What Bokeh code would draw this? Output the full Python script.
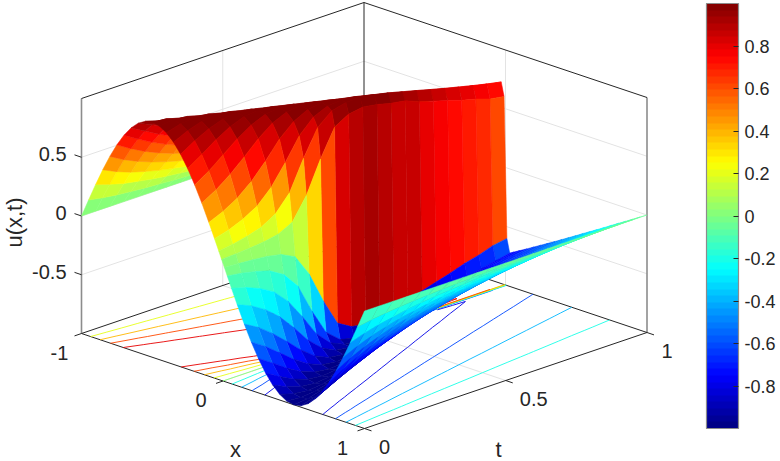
from bokeh.plotting import figure
from bokeh.embed import file_html
from bokeh.resources import INLINE
from bokeh.models import Range1d, ColorBar, LinearColorMapper, FixedTicker
from bokeh.core.properties import value

# Surface heights are hand estimates, read off the picture and guided by the
# shape of a steepening wave with a shock at x = 0; no formula fills them.
T_VALUES = [0.0, 0.05, 0.1, 0.15, 0.2, 0.25, 0.3, 0.35, 0.4, 0.45, 0.5,
            0.55, 0.6, 0.65, 0.7, 0.75, 0.8, 0.85, 0.9, 0.95, 1.0]
X_LEFT = [-1.0, -0.95, -0.9, -0.85, -0.8, -0.75, -0.7, -0.65, -0.6, -0.55, -0.5,
          -0.45, -0.4, -0.35, -0.3, -0.25, -0.2, -0.15, -0.1, -0.06, -0.03, -0.01]
X_RIGHT = [0.01, 0.03, 0.06, 0.1, 0.15, 0.2, 0.25, 0.3, 0.35, 0.4, 0.45,
           0.5, 0.55, 0.6, 0.65, 0.7, 0.75, 0.8, 0.85, 0.9, 0.95, 1.0]

U_T000 = [0, .156, .309, .454, .588, .707, .809, .891, .951, .988, 1, .988, .951, .891, .809, .707, .588, .454, .309, .187, .094, .031]
U_T005 = [0, .134, .269, .397, .519, .633, .735, .824, .897, .952, .988, 1, .987, .948, .882, .786, .666, .524, .361, .220, .111, .037]
U_T010 = [0, .118, .236, .352, .464, .569, .667, .756, .836, .903, .954, .988, 1, .988, .944, .870, .761, .616, .434, .270, .138, .046]
U_T015 = [0, .107, .213, .317, .418, .515, .609, .697, .776, .847, .907, .956, .988, 1, .986, .941, .856, .724, .534, .340, .173, .058]
U_T020 = [0, .096, .192, .286, .379, .470, .557, .640, .720, .792, .856, .912, .957, .988, 1, .986, .935, .838, .667, .460, .245, .082]
U_T025 = [0, .088, .175, .262, .347, .431, .512, .592, .667, .738, .806, .864, .916, .959, .988, 1, .985, .930, .815, .630, .384, .142]
U_T030 = [0, .080, .161, .240, .320, .398, .475, .549, .621, .690, .755, .817, .872, .920, .960, .989, 1, .984, .923, .818, .639, .33]
U_T035 = [0, .074, .149, .223, .297, .369, .441, .511, .580, .646, .711, .770, .827, .879, .923, .961, .989, 1, .984, .937, .86, .60]
U_T040 = [0, .070, .139, .208, .276, .344, .411, .477, .542, .606, .667, .726, .782, .835, .885, .927, .962, .989, 1, .989, .962, .83]
U_T045 = [0, .065, .130, .195, .259, .323, .386, .449, .510, .570, .628, .686, .741, .794, .843, .891, .929, .963, .989, .999, .99, .90]
U_T050 = [0, .061, .122, .183, .243, .304, .363, .422, .480, .538, .594, .649, .703, .754, .805, .850, .895, .932, .964, .988, .994, .92]
U_T055 = [0, .057, .115, .172, .229, .286, .342, .398, .454, .508, .563, .616, .667, .718, .766, .813, .856, .898, .934, .960, .976, .90]
U_T060 = [0, .054, .108, .162, .217, .271, .325, .378, .431, .483, .534, .585, .634, .683, .731, .777, .821, .862, .901, .929, .95, .87]
U_T065 = [0, .052, .103, .155, .206, .257, .308, .358, .409, .459, .508, .557, .605, .651, .698, .742, .786, .828, .868, .898, .919, .85]
U_T070 = [0, .049, .098, .147, .196, .245, .293, .341, .389, .437, .484, .530, .577, .622, .667, .711, .753, .796, .835, .865, .888, .80]
U_T075 = [0, .047, .093, .140, .187, .233, .279, .326, .371, .417, .463, .507, .552, .596, .639, .681, .723, .763, .803, .833, .856, .765]
U_T080 = [0, .045, .089, .134, .178, .223, .267, .312, .355, .399, .443, .486, .528, .571, .612, .653, .694, .733, .772, .804, .825, .73]
U_T085 = [0, .043, .085, .128, .170, .213, .255, .298, .340, .382, .424, .465, .506, .547, .588, .627, .667, .707, .743, .773, .796, .69]
U_T090 = [0, .041, .082, .123, .164, .205, .246, .286, .327, .367, .407, .447, .486, .526, .565, .604, .642, .680, .717, .746, .767, .66]
U_T095 = [0, .039, .079, .118, .158, .197, .236, .275, .314, .352, .391, .430, .468, .506, .544, .581, .618, .654, .691, .720, .740, .62]
U_T100 = [0, .038, .076, .114, .151, .189, .227, .265, .302, .339, .377, .414, .451, .488, .524, .560, .596, .632, .667, .695, .716, .60]

U_ROWS = [U_T000, U_T005, U_T010, U_T015, U_T020, U_T025, U_T030, U_T035, U_T040, U_T045, U_T050,
          U_T055, U_T060, U_T065, U_T070, U_T075, U_T080, U_T085, U_T090, U_T095, U_T100]

LEVELS = [-0.8, -0.6, -0.4, -0.2, 0.0, 0.2, 0.4, 0.6, 0.8]
X_TICKS = [-1, 0, 1]
T_TICKS = [0, 0.5, 1]
Z_TICKS = [-0.5, 0, 0.5]
CB_TICKS = [-0.8, -0.6, -0.4, -0.2, 0, 0.2, 0.4, 0.6, 0.8]

# the far half of the wave is the near half upside down
xs_all = X_LEFT + X_RIGHT
U = [row + [-v for v in reversed(row)] for row in U_ROWS]


def proj(x, t, z):
    return (81 + (x + 1) * 141.5 + t * 282.5, 333 + (x + 1) * 47.5 - t * 96 - (z + 1) * 117.5)


def jet_rgb(v):
    c = lambda a: max(0.0, min(1.0, a))
    return (c(min(4 * v - 1.5, -4 * v + 4.5)), c(min(4 * v - 0.5, -4 * v + 3.5)), c(min(4 * v + 0.5, -4 * v + 2.5)))


def hex_of(rgb):
    return "#%02x%02x%02x" % tuple(int(round(255 * a)) for a in rgb)


JET = [hex_of(jet_rgb((i + 0.5) / 64)) for i in range(64)]


def color(u):
    return JET[max(0, min(63, int((u + 1) / 2 * 64)))]


p = figure(width=780, height=461, x_range=Range1d(0, 780), y_range=Range1d(461, 0),
           x_axis_type=None, y_axis_type=None, toolbar_location=None, output_backend="svg",
           min_border=0, outline_line_color=None)
p.grid.visible = False

DARK = "#262626"
GRID = "#e3e3e3"
AXG = "#8c8c8c"


def seg(a, b, col, w=1.0):
    p.line([a[0], b[0]], [a[1], b[1]], line_color=col, line_width=w)


# grid lines on back walls and floor
for z in Z_TICKS:
    seg(proj(-1, 0, z), proj(-1, 1, z), GRID)
    seg(proj(-1, 1, z), proj(1, 1, z), GRID)
for t in T_TICKS[1:-1]:
    seg(proj(-1, t, -1), proj(-1, t, 1), GRID)
    seg(proj(-1, t, -1), proj(1, t, -1), GRID)
for x in X_TICKS[1:-1]:
    seg(proj(x, 1, -1), proj(x, 1, 1), GRID)
    seg(proj(x, 0, -1), proj(x, 1, -1), GRID)

# box
seg(proj(-1, 0, -1), proj(-1, 0, 1), AXG, 1.6)
seg(proj(1, 1, -1), proj(1, 1, 1), AXG, 1.6)
seg(proj(-1, 1, -1), proj(-1, 1, 1), DARK)
seg(proj(-1, 0, 1), proj(-1, 1, 1), DARK)
seg(proj(-1, 1, 1), proj(1, 1, 1), DARK)
seg(proj(-1, 0, -1), proj(-1, 1, -1), DARK)
seg(proj(-1, 1, -1), proj(1, 1, -1), DARK)
seg(proj(-1, 0, -1), proj(1, 0, -1), DARK)
seg(proj(1, 0, -1), proj(1, 1, -1), DARK)

# ticks
for x in X_TICKS:
    a = proj(x, 0, -1)
    seg(a, (a[0] - 7, a[1] + 2.4), DARK)
for t in T_TICKS:
    a = proj(1, t, -1)
    seg(a, (a[0] + 7, a[1] + 2.4), DARK)
for z in Z_TICKS:
    a = proj(-1, 0, z)
    seg(a, (a[0] - 7, a[1] - 2.4), DARK)

cx0, cy0, cx1, cy1, ccol = [], [], [], [], []
for j in range(len(T_VALUES) - 1):
    for i in range(len(xs_all) - 1):
        corners = [(xs_all[i], T_VALUES[j], U[j][i]), (xs_all[i + 1], T_VALUES[j], U[j][i + 1]),
                   (xs_all[i + 1], T_VALUES[j + 1], U[j + 1][i + 1]), (xs_all[i], T_VALUES[j + 1], U[j + 1][i])]
        for lev in LEVELS:
            pts = []
            for k in range(4):
                a, b = corners[k], corners[(k + 1) % 4]
                if (a[2] - lev) * (b[2] - lev) < 0:
                    f = (lev - a[2]) / (b[2] - a[2])
                    pts.append(proj(a[0] + f * (b[0] - a[0]), a[1] + f * (b[1] - a[1]), -1))
            for m in range(0, len(pts) - 1, 2):
                cx0.append(pts[m][0]); cy0.append(pts[m][1])
                cx1.append(pts[m + 1][0]); cy1.append(pts[m + 1][1])
                ccol.append(color(lev))
p.segment(cx0, cy0, cx1, cy1, line_color=ccol, line_width=0.9)

# surface, far cells first
qx, qy, qc = [], [], []
for i in range(len(xs_all) - 1):
    for j in range(len(T_VALUES) - 2, -1, -1):
        pts = [proj(xs_all[i], T_VALUES[j], U[j][i]), proj(xs_all[i + 1], T_VALUES[j], U[j][i + 1]),
               proj(xs_all[i + 1], T_VALUES[j + 1], U[j + 1][i + 1]), proj(xs_all[i], T_VALUES[j + 1], U[j + 1][i])]
        qx.append([a[0] for a in pts])
        qy.append([a[1] for a in pts])
        qc.append(color(U[j][i]))
p.patches(qx, qy, fill_color=qc, line_color=qc, line_width=0.5)

FONT = "Liberation Sans"


def label(x, y, s, size=20, align="center", angle=0):
    p.text([x], [y], text=[s], text_font=value(FONT), text_font_size=f"{size}px", text_color=DARK,
           text_align=align, text_baseline="middle", angle=angle)


def fmt(v):
    return ("%g" % v)


for z in Z_TICKS:
    a = proj(-1, 0, z)
    label(66, a[1] - 3, fmt(z), align="right")
for x in X_TICKS:
    a = proj(x, 0, -1)
    label(a[0] - 22, a[1] + 19, fmt(x))
for t in T_TICKS:
    a = proj(1, t, -1)
    label(a[0] + (28 if t == 0.5 else 20), a[1] + 18, fmt(t))
label(235, 449, "x", size=22)
label(498, 449, "t", size=22)
label(14, 222, "u(x,t)", size=22, angle=1.5708)

mapper = LinearColorMapper(palette=JET, low=-1, high=1)
cb = ColorBar(color_mapper=mapper, location=(706, 33), width=32, height=425, padding=0, margin=0,
              ticker=FixedTicker(ticks=CB_TICKS),
              major_label_overrides={v: fmt(v) for v in CB_TICKS},
              major_label_text_font=FONT, major_label_text_font_size="18px", major_label_text_color=DARK,
              major_tick_line_color=DARK, major_tick_in=5, major_tick_out=0, minor_tick_line_color=None,
              bar_line_color=AXG, bar_line_width=1.2, border_line_color=None, background_fill_color=None,
              label_standoff=6)
p.add_layout(cb)

open("out.html", "w").write(file_html(p, INLINE))
